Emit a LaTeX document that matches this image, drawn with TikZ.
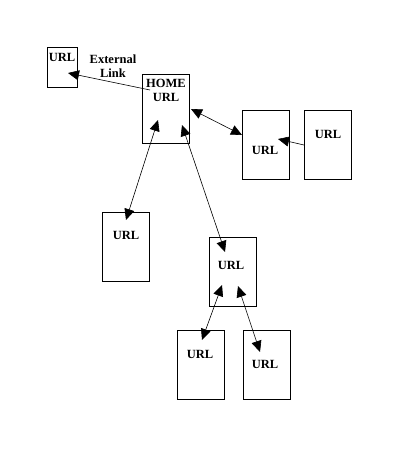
\documentclass[tikz,border=0pt]{standalone}
\usepackage{fontspec}
\setmainfont{Liberation Serif}
\usetikzlibrary{arrows.meta}
\begin{document}
\begin{tikzpicture}[x=1pt,y=-1pt,
  page/.style={draw,line width=0.8pt,minimum width=47pt,minimum height=69pt,inner sep=0pt},
  lbl/.style={font=\bfseries\fontsize{12.5}{14}\selectfont,inner sep=0pt,align=center},
  link/.style={line width=0.6pt,-{Triangle[length=11pt,width=10pt]}},
  both/.style={line width=0.6pt,{Triangle[length=11pt,width=10pt]}-{Triangle[length=11pt,width=10pt]}}]
\useasboundingbox (0,0) rectangle (400,450);
% pages
\node[page,minimum width=30pt,minimum height=40pt] (ext) at (62,67) {};
\node[page] (home) at (165.5,108.5) {};
\node[page] (right1) at (265.5,145) {};
\node[page] (right2) at (327.5,145) {};
\node[page] (left) at (125.5,246.5) {};
\node[page] (mid) at (232.5,271.5) {};
\node[page] (low1) at (200.5,364.5) {};
\node[page] (low2) at (266.5,364.5) {};
% labels
\node[lbl] (exturl) at (62,57) {URL};
\node[lbl] (extlink) at (113,66.5) {External\\Link};
\node[lbl] (homeurl) at (166,90) {HOME\\URL};
\node[lbl] (right1url) at (265,150) {URL};
\node[lbl] (right2url) at (328,134) {URL};
\node[lbl] (lefturl) at (126,235) {URL};
\node[lbl] (midurl) at (231,265) {URL};
\node[lbl] (low1url) at (200,354) {URL};
\node[lbl] (low2url) at (265,364) {URL};
% links
\draw[link] ([shift={(-15.5,-18.5)}]home.center) -- ([shift={(6,6)}]ext.center);
\draw[both] ([shift={(25.5,0.5)}]home.center) -- ([shift={(-23.5,-10)}]right1.center);
\draw[link] ([shift={(-23.5,0)}]right2.center) -- ([shift={(12.5,-6)}]right1.center);
\draw[both] ([shift={(-7.5,11.5)}]home.center) -- ([shift={(0.5,-26.5)}]left.center);
\draw[both] ([shift={(16.5,16.5)}]home.center) -- ([shift={(-7.5,-19.5)}]mid.center);
\draw[both] ([shift={(-10.5,13.5)}]mid.center) -- ([shift={(1.5,-24.5)}]low1.center);
\draw[both] ([shift={(5.5,14.5)}]mid.center) -- ([shift={(-6.5,-12.5)}]low2.center);
\end{tikzpicture}
\end{document}
